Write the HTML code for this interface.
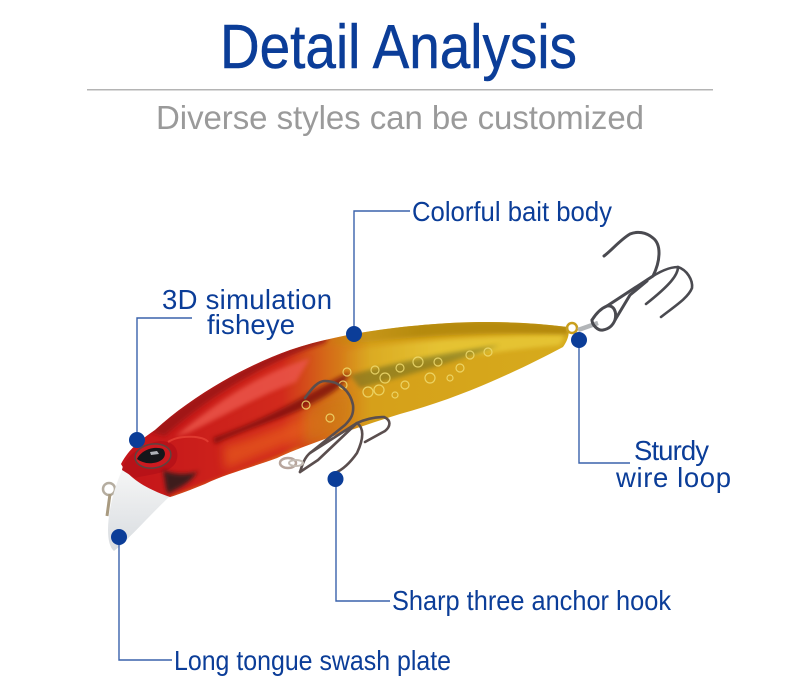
<!DOCTYPE html>
<html><head><meta charset="utf-8"><style>
html,body{margin:0;padding:0;background:#fff;width:800px;height:682px;overflow:hidden}
svg{display:block}
text{font-family:"Liberation Sans",sans-serif}
.l{fill:#0b3d98;font-size:27.500px}
</style></head><body>
<svg width="800" height="682" viewBox="0 0 800 682" xmlns="http://www.w3.org/2000/svg">
<defs>
<linearGradient id="body" gradientUnits="userSpaceOnUse" x1="121" y1="0" x2="568" y2="0">
<stop offset="0" stop-color="#c4141a"/><stop offset=".36" stop-color="#d22a1c"/><stop offset=".46" stop-color="#d56a18"/><stop offset=".56" stop-color="#d6a01a"/><stop offset="1" stop-color="#d6ab1c"/>
</linearGradient>
<linearGradient id="top" gradientUnits="userSpaceOnUse" x1="320" y1="0" x2="420" y2="0">
<stop offset="0" stop-color="#b58a10" stop-opacity="0"/><stop offset="1" stop-color="#b58a10"/>
</linearGradient>
<linearGradient id="mid" gradientUnits="userSpaceOnUse" x1="340" y1="0" x2="440" y2="0">
<stop offset="0" stop-color="#e8c838" stop-opacity="0"/><stop offset="1" stop-color="#e8c838" stop-opacity=".85"/>
</linearGradient>
<linearGradient id="lip" x1="0" y1="0" x2="0" y2="1"><stop offset="0" stop-color="#f6f6f6"/><stop offset="1" stop-color="#d8dce0"/></linearGradient>
<filter id="b2" x="-20%" y="-20%" width="140%" height="140%"><feGaussianBlur stdDeviation="2"/></filter>
<filter id="b4" x="-20%" y="-40%" width="140%" height="180%"><feGaussianBlur stdDeviation="5"/></filter>
<clipPath id="bc"><path d="M121 464C128 450 140 440 155 430C190 398 240 368 290 350C340 333 400 326 450 323C490 321 530 322 568 327C570 333 568 340 563 347C520 370 460 398 400 414C350 430 300 447 277 458C250 468 225 474 205 484C190 490 180 494 170 497C150 490 130 480 121 464Z"/></clipPath>
</defs>
<text x="220" y="68" font-size="62" fill="#0b3d98" stroke="#0b3d98" stroke-width=".5" textLength="357" lengthAdjust="spacingAndGlyphs">Detail Analysis</text>
<rect x="87" y="89" width="626" height="1.500" fill="#b4b4b4"/>
<text x="156" y="129" font-size="33" fill="#9a9a9a" textLength="488" lengthAdjust="spacing">Diverse styles can be customized</text>

<!-- lip -->
<circle cx="109" cy="489" r="6" fill="none" stroke="#b5ada0" stroke-width="2.500"/>
<path d="M110 494l-3 22" stroke="#a89a80" stroke-width="3" fill="none"/>
<path d="M123 468C115 485 108 510 108 530C108 540 110 548 114 551C128 540 150 515 169 497L150 478Z" fill="url(#lip)"/>
<!-- body -->
<path d="M121 464C128 450 140 440 155 430C190 398 240 368 290 350C340 333 400 326 450 323C490 321 530 322 568 327C570 333 568 340 563 347C520 370 460 398 400 414C350 430 300 447 277 458C250 468 225 474 205 484C190 490 180 494 170 497C150 490 130 480 121 464Z" fill="url(#body)"/>
<g clip-path="url(#bc)">
<path d="M320 334C420 318 520 318 570 326L566 336C500 331 420 334 320 348Z" fill="url(#top)" filter="url(#b2)"/>
<path d="M340 352C430 338 500 336 565 335L560 345C500 350 430 362 340 376Z" fill="url(#mid)" filter="url(#b2)"/>
<path d="M150 432C195 392 260 355 330 334L325 343C270 360 210 395 165 436Z" fill="#9a1418" filter="url(#b2)" opacity=".85"/>
<path d="M175 437C225 395 265 372 310 358L296 382C260 395 215 420 190 432Z" fill="#ea5548" filter="url(#b2)" opacity=".85"/>
<path d="M213 438C250 425 280 410 303 397C320 388 335 378 350 372C345 388 320 402 290 414C262 425 235 434 215 444Z" fill="#7a0e10" filter="url(#b2)" opacity=".8"/>
<path d="M223 446C250 440 285 425 320 410L325 428C300 440 270 450 225 470Z" fill="#e8601e" filter="url(#b4)" opacity=".65"/>
<path d="M350 375C395 362 450 352 500 345C460 360 420 372 360 388Z" fill="#7c7420" filter="url(#b2)" opacity=".65"/>
<path d="M305 412C320 398 340 394 352 396L348 422C335 434 315 440 305 444Z" fill="#cc7a14" opacity=".55" filter="url(#b4)"/>
<path d="M170 497C210 482 260 465 300 447L300 452C260 468 210 485 172 500Z" fill="#d97a16" filter="url(#b2)"/>
</g>
<g fill="none" stroke="#f0dc70" stroke-width="1.200" opacity=".85">
<circle cx="368" cy="392" r="5"/><circle cx="379" cy="390" r="5"/><circle cx="347" cy="372" r="4"/><circle cx="343" cy="385" r="4"/><circle cx="375" cy="370" r="4"/><circle cx="385" cy="378" r="5"/><circle cx="400" cy="368" r="4"/><circle cx="418" cy="362" r="5"/><circle cx="438" cy="362" r="4"/><circle cx="405" cy="385" r="4"/><circle cx="430" cy="378" r="5"/><circle cx="460" cy="368" r="4"/><circle cx="470" cy="355" r="4"/><circle cx="306" cy="405" r="4"/><circle cx="330" cy="418" r="4"/><circle cx="488" cy="352" r="4"/><circle cx="395" cy="395" r="3"/><circle cx="450" cy="378" r="3"/>
</g>
<!-- head -->
<path d="M122 470C124 458 140 444 160 441C176 441 180 452 176 462C170 474 150 474 135 478Z" fill="#b81218"/>
<path d="M163 470C180 478 200 472 200 470C192 476 195 480 175 490L168 494C165 488 165 478 163 470Z" fill="#3c1a1a" filter="url(#b2)"/>
<path d="M168 442C180 434 205 436 208 442" stroke="#e03a30" stroke-width="2" fill="none"/>
<ellipse cx="153" cy="456" rx="18" ry="12" transform="rotate(-8 153 456)" fill="#cc1a20" stroke="#5c4440" stroke-width="1.500"/>
<path d="M137 459C142 449 155 446 163 449C168 455 163 462 153 463C147 464 141 462 137 459Z" fill="#15161a"/>
<path d="M150 452l7-1 2 3-8 1z" fill="#aeb2b8"/>
<!-- belly hook -->
<g fill="none" stroke="#5a4e4e" stroke-width="2.600" stroke-linecap="round" stroke-linejoin="round">
<path d="M305 398C312 388 318 381 325 381C338 381 350 390 353 405C354 414 351 419 345 425L310 453C304 458 302 466 300 472"/>
<path d="M310 453L357 423C364 428 364 438 357 453C350 463 342 470 335 473"/>
<path d="M300 472L318 460L357 423C368 418 378 417 384 417C391 420 391 426 385 431L365 442"/>
</g>
<ellipse cx="288" cy="463" rx="8" ry="5" fill="none" stroke="#b7a59c" stroke-width="2.500"/>
<ellipse cx="296" cy="463" rx="7" ry="3" fill="none" stroke="#c4bcb4" stroke-width="2"/>
<!-- tail hook -->
<circle cx="572" cy="328" r="5" fill="none" stroke="#c99f1d" stroke-width="2.500"/>
<path d="M578 330l20-7" stroke="#b2b5b8" stroke-width="4.500" fill="none"/>
<g fill="none" stroke="#4a4a50" stroke-width="3" stroke-linecap="round" stroke-linejoin="round">
<path d="M592 320C597 312 602 308 607 306L653 276C660 262 662 245 653 238C646 232 637 231 630 234C620 240 612 250 604 256" />
<path d="M592 320C592 325 598 331 603 330C609 329 613 325 615 320L630 295L647 281"/>
<path d="M607 306C614 305 617 312 615 320"/>
<path d="M647 280C657 273 668 267 678 267C678 275 670 285 646 304" stroke-width="2.600"/>
<path d="M678 267C687 270 693 280 692 288C688 298 675 306 661 317" stroke-width="2.600"/>
</g>

<!-- connectors -->
<g fill="none" stroke="#3a62ac" stroke-width="1.400">
<path d="M354 334V211H410"/>
<path d="M137 440V318H192"/>
<path d="M579 340V463H630"/>
<path d="M336 479V601H390"/>
<path d="M119 537V660H172"/>
</g>
<g fill="#0b3d98">
<circle cx="354" cy="334" r="8"/><circle cx="137" cy="440" r="8"/><circle cx="579" cy="340" r="8"/><circle cx="335.500" cy="479" r="8"/><circle cx="119" cy="537" r="8"/>
</g>
<text class="l" x="412" y="221" textLength="200" lengthAdjust="spacingAndGlyphs">Colorful bait body</text>
<text class="l" x="162" y="309" textLength="170" lengthAdjust="spacing">3D simulation</text>
<text class="l" x="207" y="334" textLength="88" lengthAdjust="spacing">fisheye</text>
<text class="l" x="634" y="460" textLength="75" lengthAdjust="spacing">Sturdy</text>
<text class="l" x="616" y="487" textLength="115" lengthAdjust="spacing">wire loop</text>
<text class="l" x="392" y="610" textLength="279" lengthAdjust="spacingAndGlyphs">Sharp three anchor hook</text>
<text class="l" x="174" y="670" textLength="277" lengthAdjust="spacingAndGlyphs">Long tongue swash plate</text>
</svg>
</body></html>
